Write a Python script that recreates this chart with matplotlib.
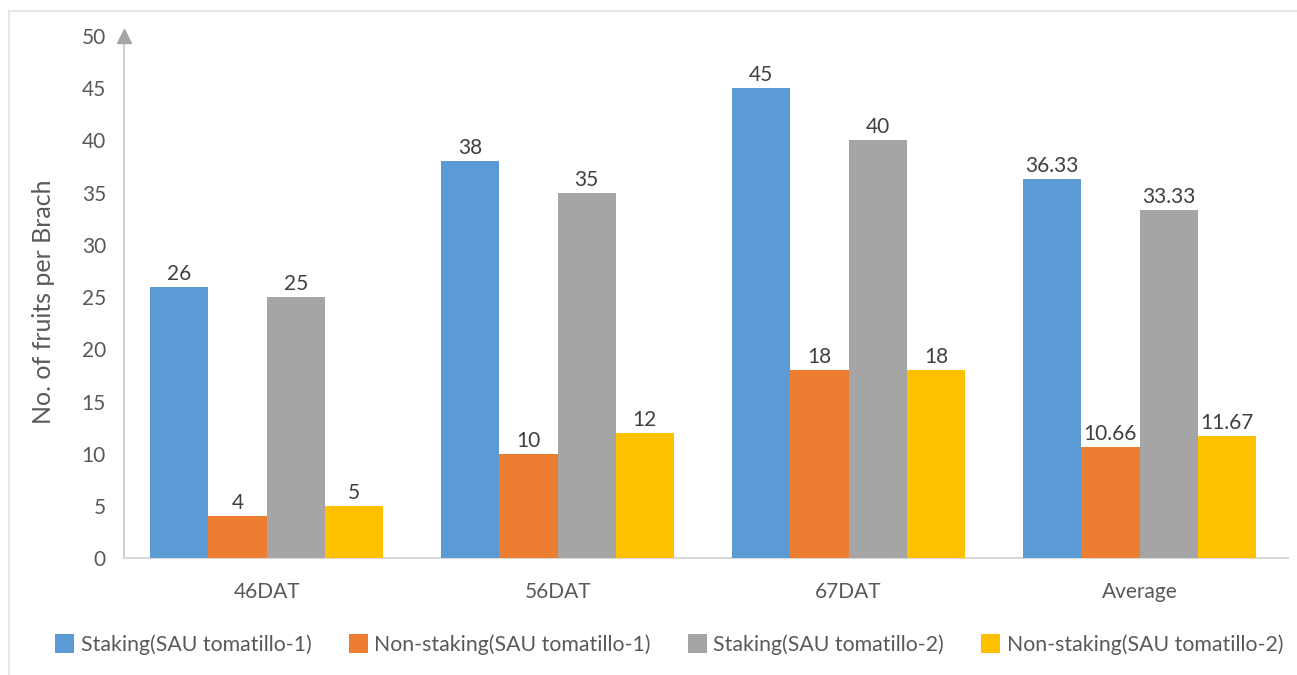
import matplotlib.pyplot as plt
import matplotlib.patches as patches
import numpy as np

plt.rcParams['font.family'] = ['Lato', 'DejaVu Sans']

stages = ["46DAT", "56DAT", "67DAT", "Average"]
series_names = ["Staking(SAU tomatillo-1)", "Non-staking(SAU tomatillo-1)",
                "Staking(SAU tomatillo-2)", "Non-staking(SAU tomatillo-2)"]
staking_1 = [26, 38, 45, 36.33]
nonstaking_1 = [4, 10, 18, 10.66]
staking_2 = [25, 35, 40, 33.33]
nonstaking_2 = [5, 12, 18, 11.67]
labels_1 = ["26", "38", "45", "36.33"]
labels_2 = ["4", "10", "18", "10.66"]
labels_3 = ["25", "35", "40", "33.33"]
labels_4 = ["5", "12", "18", "11.67"]

colors = ["#5B9BD5", "#ED7D31", "#A5A5A5", "#FFC000"]
txt = "#595959"
font = 15

fig = plt.figure(figsize=(12.97, 6.75), dpi=100)
ax = fig.add_axes([0.0956, 0.173, 0.8974, 0.7737])

# light frame around the whole chart area
fig.patches.append(patches.Rectangle((9 / 1297, -0.05), 1.1, 1 - 11 / 675 + 0.05,
                                     transform=fig.transFigure, fill=False,
                                     edgecolor="#E6E6E6", linewidth=1.5))

x = np.arange(len(stages))
w = 0.2
all_vals = [staking_1, nonstaking_1, staking_2, nonstaking_2]
all_labels = [labels_1, labels_2, labels_3, labels_4]
for k in range(4):
    bars = ax.bar(x + (k - 1.5) * w, all_vals[k], width=w, color=colors[k],
                  label=series_names[k], zorder=3)
    for b, lab in zip(bars, all_labels[k]):
        ax.text(b.get_x() + b.get_width() / 2, b.get_height() + 0.3, lab,
                ha="center", va="bottom", fontsize=font, color="#404040")

ax.set_xlim(-0.49, 3.51)
ax.set_ylim(0, 50)
ax.set_yticks(range(0, 51, 5))
ax.set_xticks(x)
ax.set_xticklabels(stages)
ax.tick_params(axis="both", length=0, labelsize=font, colors=txt)
ax.tick_params(axis="y", pad=13)
ax.tick_params(axis="x", pad=17)

for s in ["top", "right"]:
    ax.spines[s].set_visible(False)
ax.spines["left"].set_color("#D0D0D0")
ax.spines["bottom"].set_color("#D9D9D9")
ax.spines["left"].set_linewidth(1.5)
ax.spines["bottom"].set_linewidth(1.5)

# arrow head on the value axis
ax.plot([0], [1.0], marker="^", markersize=10, color="#A6A6A6",
        transform=ax.transAxes, clip_on=False, zorder=5)

ax.set_ylabel("No. of fruits per Brach", fontsize=18, color=txt)
ax.yaxis.set_label_coords(-0.059, 0.492)

leg = fig.legend(loc="center", bbox_to_anchor=(0.516, 0.045), ncol=4, frameon=False,
                 fontsize=15.3, handlelength=0.9, handleheight=1.0,
                 handletextpad=0.3, columnspacing=1.75)
for t in leg.get_texts():
    t.set_color(txt)

plt.savefig("out.png", dpi=100)
